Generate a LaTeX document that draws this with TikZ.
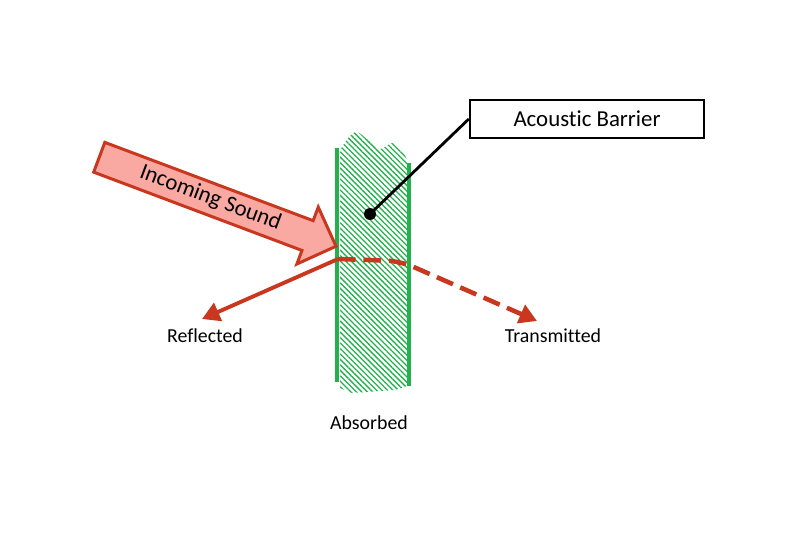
\documentclass[tikz,border=0pt]{standalone}
\usepackage{fontspec}
\setmainfont{Carlito}[Ligatures=NoCommon]
\usepackage{xcolor}
\usetikzlibrary{shapes.arrows, arrows.meta, patterns.meta, positioning}
\definecolor{soundred}{HTML}{C9371F}
\definecolor{soundpink}{HTML}{F9A8A2}
\definecolor{wallgreen}{HTML}{22B14C}
\tikzstyle{soundarrow} = [single arrow, draw=soundred, fill=soundpink, line width=1.7pt, minimum height=5.06cm, single arrow head extend=0.29cm, text height=9pt, text depth=3pt, inner ysep=2.2pt, font=\fontsize{13}{15}\selectfont]
\tikzstyle{barrierbox} = [rectangle, minimum width=4.68cm, minimum height=0.76cm, text centered, draw=black, line width=1.4pt, fill=white, font=\fontsize{13}{15}\selectfont]
\tikzstyle{caption} = [font=\fontsize{11.3}{13}\selectfont, inner sep=0pt]
\tikzstyle{ray} = [soundred, line width=2.2pt, -{Triangle[length=10pt,width=11pt]}]
\tikzstyle{wall} = [wallgreen, line width=2.3pt]

\begin{document}
\begin{tikzpicture}[x=0.02cm, y=-0.02cm]
    \useasboundingbox (0,0) rectangle (800,533);
    % the barrier
    \fill[pattern={Lines[angle=-45,distance=2.2pt,line width=0.75pt]}, pattern color=wallgreen]
        plot[smooth] coordinates {(340,150) (349,137) (357,132) (368,140) (380,149) (392,143) (401,148) (407,160)}
        -- (407,386) -- (395,390) -- (352,393) -- (340,388) -- cycle;
    \draw[wall] (337,148) -- (337,382);
    \draw[wall] (409,163) -- (409,386);
    \coordinate (tip) at (338,247);
    \coordinate (hit) at (338,259);
    \coordinate (bend) at (400,261);
    \coordinate (refltip) at (202,319);
    \coordinate (transtip) at (537,321);
    \node (sound) [soundarrow, rotate=-20.6, anchor=tip] at (tip) {Incoming Sound};
    \node (box) [barrierbox] at (587,119) {Acoustic Barrier};
    \node (dot) [circle, fill=black, inner sep=0pt, minimum size=0.24cm] at (370,214) {};
    \draw[line width=1.6pt] (dot.center) -- (box.west);
    \draw[ray] (hit) -- (refltip);
    \draw[ray, line width=2.6pt, dash pattern=on 10pt off 4.5pt, rounded corners=8pt] (hit) -- (bend) -- (transtip);
    \node (refl) [caption] at (205,336) {Reflected};
    \node (trans) [caption] at (553,336) {Transmitted};
    \node (absorbed) [caption] at (369,423) {Absorbed};
\end{tikzpicture}
\end{document}
